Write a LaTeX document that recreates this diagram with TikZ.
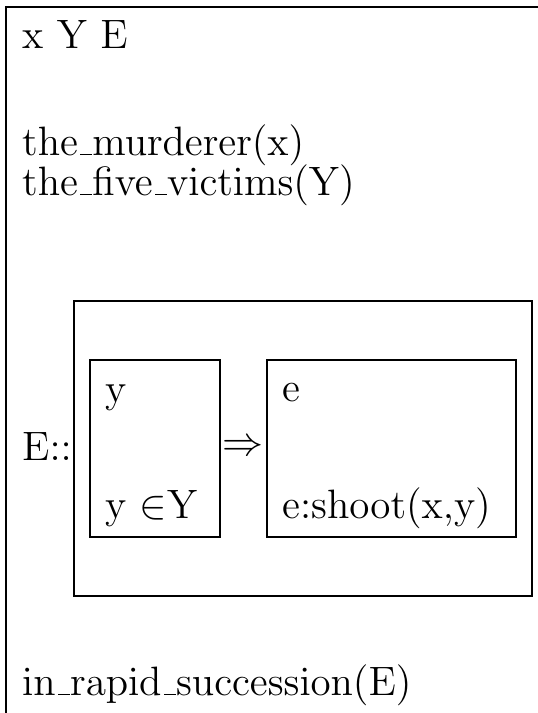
\documentclass[tikz,border=0pt]{standalone}
\usepackage[OT1]{fontenc}
\usepackage{graphicx}
\usepackage{tikz}
\usetikzlibrary{positioning}

\renewcommand\rmdefault{cmr}
% the DRS is set in 12pt type and blown up
\newcommand\drst[1]{\scalebox{3.42}{#1}}
\tikzset{
  drs/.style={anchor=base west, inner sep=0pt, font=\fontsize{12}{14}\selectfont},
  drsline/.style={line width=1.2pt},
}

\begin{document}
\begin{tikzpicture}[x=1pt, y=-1pt]
    \useasboundingbox (0,0) rectangle (538,713);
    % outer box, runs off the page to the right and below
    \draw[drsline] (6,713) -- (6,7) -- (538,7);
    \node[drs] (refs) at (22,48) {\drst{x Y E}};
    \node[drs] (murd) at (22,155) {\drst{the\_murderer(x)}};
    \node[drs] (vict) at (22,195) {\drst{the\_five\_victims(Y)}};
    \node[drs] (elab) at (22,460) {\drst{E::}};
    % duplex condition
    \draw[drsline] (74,301) rectangle (532,596);
    \draw[drsline] (90,360) rectangle (220,537);
    \draw[drsline] (267,360) rectangle (516,537);
    \node[drs] (yref) at (105,402) {\drst{y}};
    \node[drs] (ycond) at (105,518) {\drst{y $\in$Y}};
    \node[drs, anchor=center] (imp) at (243,448) {\drst{$\Rightarrow$}};
    \node[drs] (eref) at (282,401) {\drst{e}};
    \node[drs] (econd) at (282,518) {\drst{e:shoot(x,y)}};
    \node[drs] (succ) at (22,695) {\drst{in\_rapid\_succession(E)}};
\end{tikzpicture}
\end{document}
